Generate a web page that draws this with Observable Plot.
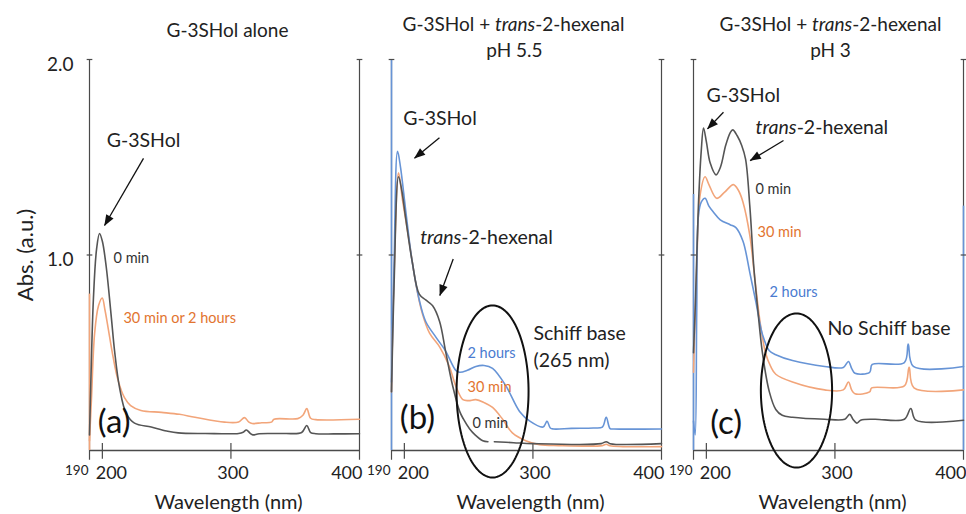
<!DOCTYPE html>
<html>
<head>
<meta charset="utf-8">
<script src="https://cdn.jsdelivr.net/npm/d3@7"></script>
<script src="https://cdn.jsdelivr.net/npm/@observablehq/plot@0.6"></script>
<style>
  html, body { margin: 0; padding: 0; background: #fff; }
  #chart { width: 966px; height: 514px; }
</style>
</head>
<body>
<div id="chart"></div>
<script>
// ---------- categories / labels ----------
const panels = ["a", "b", "c"];
const panelTitles = ["G-3SHol alone", "G-3SHol + trans-2-hexenal", "G-3SHol + trans-2-hexenal"];
const panelSubtitles = ["", "pH 5.5", "pH 3"];
const panelTags = ["(a)", "(b)", "(c)"];
const xDomain = [190, 400];
const yDomain = [0, 2];
const xTicks = [200, 300, 400];
const xStartTick = 190;
const yTicks = [1, 2];

// ---------- spectra: [wavelength nm, absorbance] ----------
const specA_0min = [[190,0.08],[191,0.34],[193,0.77],[195.5,1.03],[197.8,1.11],[200,1.07],[203,0.94],[207,0.68],[209.5,0.51],[213.4,0.32],[218.5,0.19],[225,0.14],[238,0.12],[250,0.10],[259,0.09],[280,0.087],[306,0.087],[309.5,0.093],[312,0.105],[315,0.088],[317,0.08],[322,0.086],[342,0.087],[355,0.092],[359,0.128],[362,0.092],[366,0.086],[380,0.085],[400,0.086]];
const specA_30min = [[190,0.05],[191.5,0.26],[194,0.60],[197,0.74],[199.9,0.78],[202,0.72],[204.4,0.63],[208.3,0.48],[212.2,0.36],[217.2,0.27],[222,0.23],[230,0.205],[246,0.195],[260,0.185],[272,0.17],[295,0.145],[306,0.146],[310.5,0.168],[314,0.145],[316.5,0.138],[324,0.142],[331.5,0.145],[333.5,0.16],[352,0.163],[356,0.18],[359,0.214],[362,0.165],[366,0.158],[400,0.16]];

const specB_0min = [[190,0.3],[192,0.85],[195.5,1.40],[198,1.33],[201,1.19],[206,0.97],[211.6,0.80],[216.6,0.77],[222,0.74],[227.4,0.66],[232,0.51],[237.6,0.33],[243,0.20],[246,0.16],[250.8,0.11],[255,0.08],[261,0.05],[265,0.045],[267.5,NaN],[270,0.045],[285,0.04],[300,0.035],[353,0.035],[357,0.045],[360,0.035],[400,0.035]];
const specB_30min = [[190,0.3],[192,0.9],[195.5,1.42],[198.6,1.28],[204,1.06],[209,0.85],[214,0.70],[219.6,0.60],[227.4,0.53],[235,0.43],[240,0.33],[245.5,0.26],[250,0.255],[255.6,0.26],[262,0.245],[268.6,0.22],[276.4,0.16],[284,0.09],[294.4,0.05],[305,0.03],[320,0.025],[354,0.025],[357,0.032],[360,0.024],[400,0.02]];
const specB_2h = [[190,0.35],[192,0.95],[194.7,1.53],[197,1.45],[201,1.23],[206,0.97],[211.6,0.77],[216.6,0.66],[224.5,0.58],[232,0.51],[240,0.41],[243,0.40],[249,0.41],[255.6,0.43],[262,0.435],[268.6,0.42],[279,0.33],[289.6,0.20],[297.6,0.15],[307.9,0.12],[311,0.15],[313.5,0.115],[316,0.11],[330,0.113],[347,0.115],[354,0.12],[357,0.17],[360,0.112],[363,0.11],[400,0.11]];

const specC_0min = [[190,0.5],[191.5,0.76],[193.8,1.25],[196,1.53],[197.8,1.65],[200,1.58],[203,1.47],[207.5,1.41],[211,1.45],[215,1.56],[218.5,1.625],[220.5,1.64],[224,1.61],[227.5,1.56],[230.5,1.49],[233.8,1.25],[237,0.93],[240,0.72],[243.8,0.49],[249,0.30],[254,0.21],[259,0.18],[267,0.17],[292,0.16],[307.7,0.16],[311.5,0.185],[314,0.16],[317,0.14],[320,0.155],[330.8,0.16],[354,0.16],[359,0.215],[363,0.155],[400,0.155]];
const specC_30min = [[190,0.4],[192.5,0.93],[195,1.3],[199,1.40],[202,1.36],[208,1.29],[214,1.32],[221,1.36],[225,1.33],[228.5,1.27],[233.8,1.10],[237.7,0.88],[241.5,0.67],[246,0.50],[250,0.43],[254,0.39],[267,0.35],[292,0.31],[306.5,0.31],[310.5,0.35],[313,0.31],[315.6,0.29],[327,0.30],[328.6,0.32],[354,0.33],[357.7,0.425],[361.5,0.32],[400,0.31]];
const specC_2h = [[190,0.15],[191.3,0.08],[192.5,0.7],[193.8,1.2],[196,1.27],[199,1.29],[202,1.25],[205.4,1.22],[210.8,1.18],[218.5,1.155],[223,1.14],[228.5,1.07],[233.8,0.91],[238.5,0.76],[243.8,0.59],[249,0.51],[254,0.49],[267,0.46],[292,0.43],[306.5,0.425],[310.5,0.455],[313,0.42],[315.6,0.395],[327,0.40],[329,0.44],[354,0.45],[357,0.545],[361,0.43],[400,0.43]];

const spectra = [
  {panel: "a", series: "0 min", points: specA_0min},
  {panel: "a", series: "30 min", points: specA_30min},
  {panel: "b", series: "0 min", points: specB_0min},
  {panel: "b", series: "30 min", points: specB_30min},
  {panel: "b", series: "2 hours", points: specB_2h},
  {panel: "c", series: "0 min", points: specC_0min},
  {panel: "c", series: "30 min", points: specC_30min},
  {panel: "c", series: "2 hours", points: specC_2h}
];

// ---------- annotations (anchors in data units: nm, abs) ----------
const curveLabels = [
  {panel: "a", text: "0 min", series: "0 min", nm: 208.7, abs: 0.982},
  {panel: "a", text: "30 min or 2 hours", series: "30 min", nm: 216.4, abs: 0.675},
  {panel: "b", text: "2 hours", series: "2 hours", nm: 249.1, abs: 0.496},
  {panel: "b", text: "30 min", series: "30 min", nm: 249.1, abs: 0.322},
  {panel: "b", text: "0 min", series: "0 min", nm: 253, abs: 0.138},
  {panel: "c", text: "0 min", series: "0 min", nm: 238.2, abs: 1.335},
  {panel: "c", text: "30 min", series: "30 min", nm: 239.8, abs: 1.115},
  {panel: "c", text: "2 hours", series: "2 hours", nm: 249.1, abs: 0.808}
];
const calloutsCentered = [
  {panel: "a", text: "G-3SHol", nm: 232, abs: 1.586},
  {panel: "b", text: "G-3SHol", nm: 227.7, abs: 1.698},
  {panel: "b", text: "trans-2-hexenal", nm: 263.9, abs: 1.09}
];
const calloutsLeft = [
  {panel: "b", text: "Schiff base", nm: 300.4, abs: 0.598},
  {panel: "b", text: "(265 nm)", nm: 300.4, abs: 0.46},
  {panel: "c", text: "G-3SHol", nm: 200.1, abs: 1.816},
  {panel: "c", text: "trans-2-hexenal", nm: 238.2, abs: 1.652},
  {panel: "c", text: "No Schiff base", nm: 294.2, abs: 0.624}
];
const arrows = [
  {panel: "a", nm1: 232, abs1: 1.494, nm2: 201.7, abs2: 1.151},
  {panel: "b", nm1: 227.3, abs1: 1.60, nm2: 207.9, abs2: 1.495},
  {panel: "b", nm1: 238.0, abs1: 0.98, nm2: 227.6, abs2: 0.793},
  {panel: "c", nm1: 213.3, abs1: 1.73, nm2: 200.9, abs2: 1.645},
  {panel: "c", nm1: 260, abs1: 1.586, nm2: 234.1, abs2: 1.483}
];
const ellipses = [
  {panel: "b", cx: 268.6, cy: 0.302, rx: 28, ry: 0.44},
  {panel: "c", cx: 270.1, cy: 0.307, rx: 27.7, ry: 0.394}
];
const tagPos = [
  {nm: 196.5, abs: 0.143},
  {nm: 196.5, abs: 0.164},
  {nm: 203, abs: 0.138}
];
// coloured stretches of the scanned frame
const frameTints = [
  {panel: "a", nm: 190, y1: 0, y2: 0.8, series: "30 min"},
  {panel: "b", nm: 190, y1: 0, y2: 2.0, series: "2 hours"},
  {panel: "c", nm: 190, y1: 0, y2: 1.31, series: "2 hours"},
  {panel: "c", nm: 400, y1: 0, y2: 1.25, series: "2 hours"}
];

// ---------- styles ----------
const lineColor = {"0 min": "#555555", "30 min": "#f2a57a", "2 hours": "#6794d6"};
const textColor = {"0 min": "#333333", "30 min": "#e2742f", "2 hours": "#4a7bd0"};
const ink = "#222222";
const axisInk = "#4a4a4a";
const font = "Lato, 'Open Sans', sans-serif";

// ---------- derived tables ----------
const rows = spectra.flatMap(s => s.points.map(([nm, abs]) => ({panel: s.panel, series: s.series, nm, abs})));
const frameLines = panels.flatMap(p => xDomain.map(v => ({panel: p, nm: v})));
const yTickMarks = panels.flatMap(p => xDomain.flatMap(v => yTicks.map(t => ({panel: p, nm: v, abs: t}))));
const xTickMarks = panels.flatMap(p => xTicks.filter(t => t < xDomain[1]).map(t => ({panel: p, nm: t})));
const xTickLabels = panels.flatMap(p => xTicks.map(t => ({panel: p, nm: t, label: String(t)})));
const xStartLabels = panels.map(p => ({panel: p, nm: xStartTick, label: String(xStartTick)}));
const baseRows = panels.map(p => ({panel: p, abs: yDomain[0]}));
const titleRows = panels.map((p, i) => ({panel: p, t1: panelTitles[i], t2: panelSubtitles[i]}));
const tagRows = panels.map((p, i) => ({panel: p, text: panelTags[i], ...tagPos[i]}));
const ellipsePts = ellipses.flatMap(e => d3.range(0, 145).map(i => {
  const t = i / 144 * 2 * Math.PI;
  return {panel: e.panel, nm: e.cx + e.rx * Math.cos(t), abs: e.cy + e.ry * Math.sin(t)};
}));

const seriesNames = ["30 min", "2 hours", "0 min"];
const tickText = (filter, dx, dy, anchor, size) => Plot.text(xTickLabels.filter(filter), {
  fx: "panel", x: "nm", y: yDomain[0], text: "label", dx, dy, textAnchor: anchor, lineAnchor: "middle", fontSize: size, fill: ink
});
const titleText = (p, key, dx, dy) => Plot.text(titleRows.filter(d => d.panel === p), {
  fx: "panel", frameAnchor: "top", text: key, dx, dy, textAnchor: "middle", lineAnchor: "middle", fontSize: 19, fill: ink
});

const chart = Plot.plot({
  width: 966,
  height: 514,
  marginLeft: 88,
  marginRight: 3,
  marginTop: 59,
  marginBottom: 64,
  style: {fontFamily: font, background: "#fff", color: ink, overflow: "visible"},
  fx: {domain: panels, paddingInner: 0.107, paddingOuter: 0, axis: null, label: null},
  x: {domain: xDomain, axis: null},
  y: {domain: yDomain, axis: null},
  marks: [
    // frame lines
    Plot.ruleX(frameLines, {fx: "panel", x: "nm", y1: -0.05, y2: yDomain[1], stroke: axisInk, strokeWidth: 1.2}),
    Plot.ruleY(baseRows, {fx: "panel", y: "abs", x1: xDomain[0], x2: xDomain[1], stroke: axisInk, strokeWidth: 1.6}),
    Plot.ruleX(frameTints, {fx: "panel", x: "nm", y1: "y1", y2: "y2", stroke: d => lineColor[d.series], strokeWidth: 1.6}),
    Plot.link(yTickMarks, {fx: "panel", x1: d => d.nm - 2.2, x2: d => d.nm + 2.2, y1: "abs", y2: "abs", stroke: axisInk, strokeWidth: 1.2}),
    Plot.ruleX(xTickMarks, {fx: "panel", x: "nm", y1: -0.045, y2: 0.036, stroke: axisInk, strokeWidth: 1.2}),
    // tick labels
    tickText(d => d.nm === 200, 9, 23, "middle", 18),
    tickText(d => d.nm === 300, 2, 23, "middle", 18),
    tickText(d => d.nm === 400, 3, 23, "end", 18),
    Plot.text(xStartLabels, {fx: "panel", x: "nm", y: yDomain[0], text: "label", dy: 20, dx: -1, textAnchor: "end", lineAnchor: "middle", fontSize: 13.5, fill: ink}),
    Plot.text(yTicks.map(t => ({panel: "a", abs: t})), {fx: "panel", x: xDomain[0], y: "abs", text: d => d.abs.toFixed(1), dx: -16, dy: 5, textAnchor: "end", lineAnchor: "middle", fontSize: 19, fill: ink}),
    Plot.text([{panel: "a", text: "Abs. (a.u.)"}], {fx: "panel", frameAnchor: "left", text: "text", dx: -64, rotate: -90, textAnchor: "middle", lineAnchor: "middle", fontSize: 22, fill: ink}),
    // axis titles
    Plot.text(panels.map(p => ({panel: p, text: "Wavelength (nm)"})), {fx: "panel", frameAnchor: "bottom", text: "text", dy: 52, dx: 4, textAnchor: "middle", lineAnchor: "middle", fontSize: 20, fill: ink}),
    // panel titles
    titleText("a", "t1", 3, -29),
    titleText("b", "t1", -13, -35),
    titleText("b", "t2", -12, -9),
    titleText("c", "t1", 2, -35),
    titleText("c", "t2", 2, -9),
    // spectra
    ...seriesNames.map(s => Plot.line(rows.filter(r => r.series === s), {
      fx: "panel", x: "nm", y: "abs", z: "panel", stroke: lineColor[s], strokeWidth: 1.6, curve: "catmull-rom"
    })),
    // ellipses
    Plot.line(ellipsePts, {fx: "panel", x: "nm", y: "abs", z: "panel", stroke: "#111", strokeWidth: 2, curve: "linear"}),
    // arrows
    Plot.link(arrows, {fx: "panel", x1: "nm1", y1: "abs1", x2: "nm2", y2: "abs2", stroke: "#111", strokeWidth: 1.3, markerEnd: "arrow"}),
    // curve labels
    ...seriesNames.map(s => Plot.text(curveLabels.filter(d => d.series === s), {
      fx: "panel", x: "nm", y: "abs", text: "text", textAnchor: "start", fill: textColor[s], fontSize: 14.5
    })),
    // callouts
    Plot.text(calloutsCentered, {fx: "panel", x: "nm", y: "abs", text: "text", textAnchor: "middle", fontSize: 19.5, fill: ink}),
    Plot.text(calloutsLeft, {fx: "panel", x: "nm", y: "abs", text: "text", textAnchor: "start", fontSize: 19.5, fill: ink}),
    // panel tags
    Plot.text(tagRows, {fx: "panel", x: "nm", y: "abs", text: "text", textAnchor: "start", fontSize: 33, fill: "#111"})
  ]
});

// italic "trans" prefix
chart.querySelectorAll("text").forEach(t => {
  const leaves = t.querySelectorAll("tspan").length ? Array.from(t.querySelectorAll("tspan")) : [t];
  leaves.forEach(el => {
    const s = el.textContent;
    const i = s.indexOf("trans-");
    if (i < 0) return;
    el.textContent = "";
    const ns = "http://www.w3.org/2000/svg";
    const add = (str, italic) => {
      if (!str) return;
      const sp = document.createElementNS(ns, "tspan");
      sp.textContent = str;
      if (italic) sp.setAttribute("font-style", "italic");
      el.appendChild(sp);
    };
    add(s.slice(0, i), false);
    add("trans", true);
    add(s.slice(i + 5), false);
  });
});

// filled arrowheads
chart.querySelectorAll("marker").forEach(m => {
  const c = m.getAttribute("stroke") || "#111";
  m.setAttribute("viewBox", "-10 -5 11 10");
  m.setAttribute("markerWidth", 9.5);
  m.setAttribute("markerHeight", 8.6);
  m.setAttribute("fill", c);
  m.setAttribute("stroke", "none");
  m.querySelectorAll("path").forEach(p => {
    p.setAttribute("d", "M-9.5,-3.8L0.5,0L-9.5,3.8Z");
    p.setAttribute("fill", c);
    p.setAttribute("stroke", "none");
  });
});

document.getElementById("chart").appendChild(chart);
</script>
</body>
</html>
